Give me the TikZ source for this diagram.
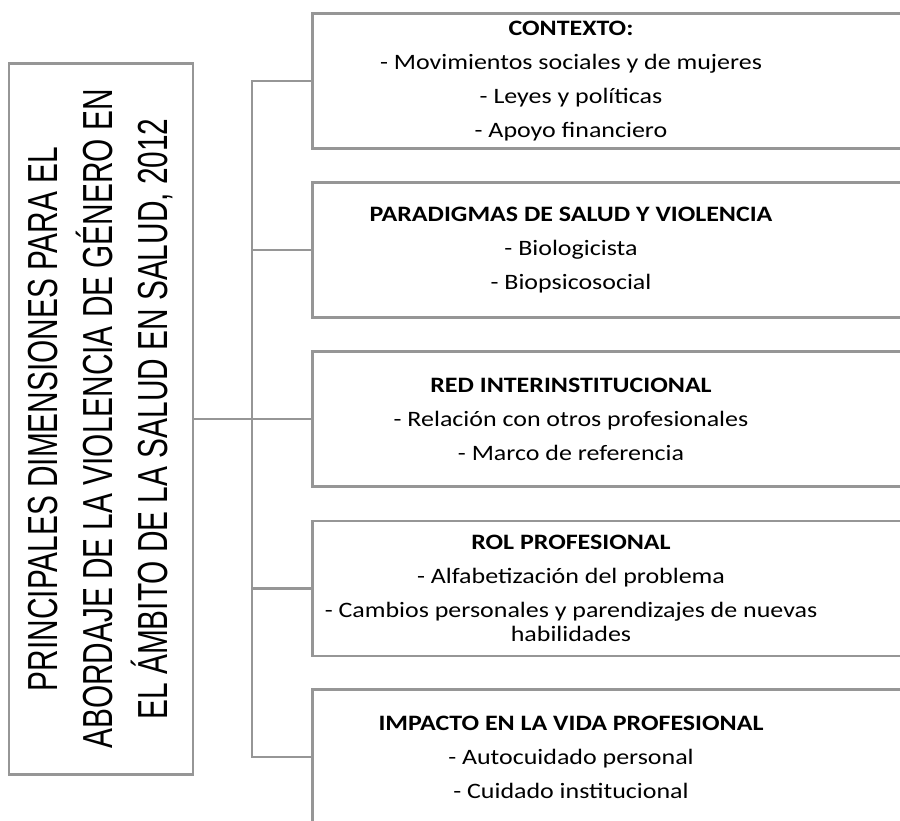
\documentclass[tikz,border=0pt]{standalone}
\usepackage{fontspec}
\newfontfamily\boxfont[FakeStretch=1.18]{Carlito}
\newfontfamily\titlefont[FakeStretch=0.71]{Liberation Sans}
\definecolor{linegray}{RGB}{150,150,150}
\tikzset{dimbox/.style={draw=linegray, line width=2.6pt, rectangle, minimum width=700pt, minimum height=135pt, anchor=west},
 dimtext/.style={align=center, inner sep=0pt, font=\boxfont\fontsize{22}{24}\selectfont},
 titlebox/.style={draw=linegray, line width=2.6pt, rotate=90, minimum width=711pt, minimum height=184pt, align=center, inner sep=0pt, font=\titlefont\fontsize{42}{55}\selectfont},
 conn/.style={draw=linegray, line width=2.6pt},
 }

\begin{document}
\begin{tikzpicture}[x=1pt, y=1pt]
        \useasboundingbox (0,0) rectangle (900,-820);
        \clip (0,0) rectangle (900,-820);
        \node[titlebox] (title) at (101,-419) {PRINCIPALES DIMENSIONES PARA EL\\ABORDAJE DE LA VIOLENCIA DE GÉNERO EN\\EL ÁMBITO DE LA SALUD EN SALUD, 2012};
        \node[dimbox] (contexto) at (311,-81) {};
        \node[dimbox] (paradigmas) at (311,-250) {};
        \node[dimbox] (red) at (311,-419) {};
        \node[dimbox] (rol) at (311,-588.5) {};
        \node[dimbox] (impacto) at (311,-757) {};
        \node[dimtext] (contexto text) at (571,-81) {\textbf{CONTEXTO:}\\[10pt]- Movimientos sociales y de mujeres\\[10pt]- Leyes y políticas\\[10pt]- Apoyo financiero};
        \node[dimtext] (paradigmas text) at (571,-250) {\textbf{PARADIGMAS DE SALUD Y VIOLENCIA}\\[10pt]- Biologicista\\[10pt]- Biopsicosocial};
        \node[dimtext] (red text) at (571,-419) {\textbf{RED INTERINSTITUCIONAL}\\[10pt]- Relación con otros profesionales\\[10pt]- Marco de referencia};
        \node[dimtext] (rol text) at (571,-588.5) {\textbf{ROL PROFESIONAL}\\[10pt]- Alfabetización del problema\\[10pt]- Cambios personales y parendizajes de nuevas\\habilidades};
        \node[dimtext] (impacto text) at (571,-757) {\textbf{IMPACTO EN LA VIDA PROFESIONAL}\\[10pt]- Autocuidado personal\\[10pt]- Cuidado institucional};
        \coordinate (spine) at (252,-419);
        \draw[conn] (title.south) -- (red.west);
        \draw[conn] (contexto.west) -| (spine) |- (impacto.west);
        \draw[conn] (paradigmas.west) -- (paradigmas.west -| spine);
        \draw[conn] (rol.west) -- (rol.west -| spine);
    \end{tikzpicture}
\end{document}
